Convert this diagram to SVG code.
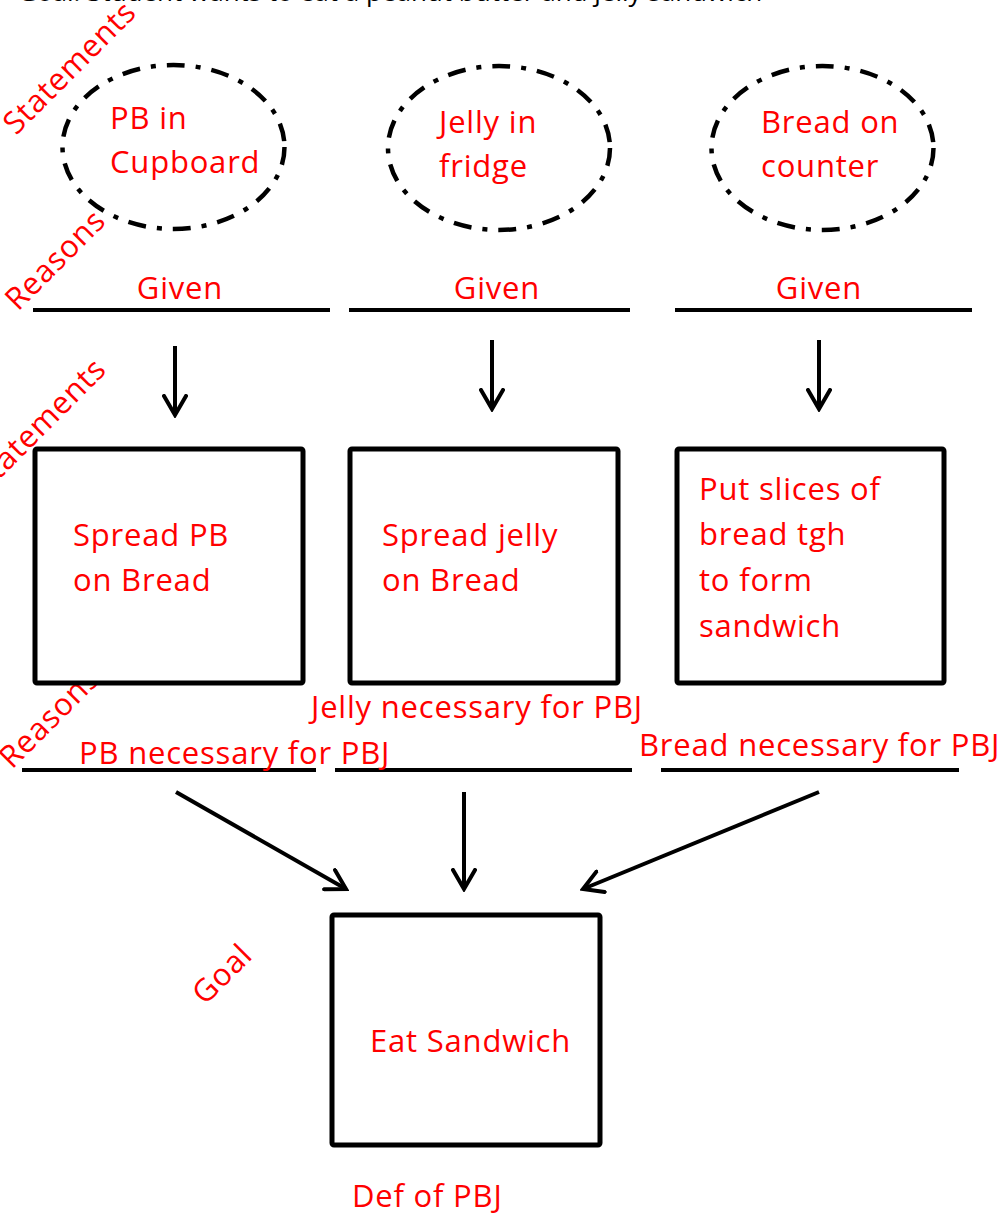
<svg xmlns="http://www.w3.org/2000/svg" width="1003" height="1216" viewBox="0 0 1003 1216">
<style>
  .t { font-family: "Open Sans", "Noto Sans", "Liberation Sans", sans-serif; font-size: 31px; letter-spacing: 0.8px; fill: #FF0000; }
  .hdr { font-family: "Open Sans", "Noto Sans", "Liberation Sans", sans-serif; font-size: 26px; fill: #000000; }
  .ell { fill: none; stroke: #000; stroke-width: 4.5; stroke-dasharray: 18 11 5 11; }
  .box { fill: #fff; stroke: #000; stroke-width: 5; }
  .rule { stroke: #000; stroke-width: 4; }
  .arr { stroke: #000; stroke-width: 4; fill: none; marker-end: url(#ah); }
</style>
<defs>
  <marker id="ah" viewBox="0 0 24 26" refX="21" refY="13" markerWidth="24" markerHeight="26" markerUnits="userSpaceOnUse" orient="auto">
    <path d="M2,2 L21,13 L2,24" fill="none" stroke="#000" stroke-width="4" stroke-linecap="round"/>
  </marker>
</defs>
<rect width="1003" height="1216" fill="#fff"/>

<text class="hdr" x="18" y="0.5">Goal: Student wants to eat a peanut butter and jelly sandwich</text>

<g id="labels">
  <text class="t" transform="translate(16,136) rotate(-45)">Statements</text>
  <text class="t" transform="translate(18,312) rotate(-45)">Reasons</text>
  <text class="t" transform="translate(-14,493) rotate(-45)">Statements</text>
  <text class="t" transform="translate(12,770) rotate(-45)">Reasons</text>
  <text class="t" transform="translate(205,1006) rotate(-45)">Goal</text>
</g>

<g id="node-pb-cupboard">
  <ellipse class="ell" cx="173.5" cy="147" rx="111" ry="82"/>
  <text class="t" x="110" y="129">PB in</text>
  <text class="t" x="110" y="173">Cupboard</text>
</g>
<g id="node-jelly-fridge">
  <ellipse class="ell" cx="499" cy="148" rx="111" ry="82"/>
  <text class="t" x="439" y="133">Jelly in</text>
  <text class="t" x="439" y="177">fridge</text>
</g>
<g id="node-bread-counter">
  <ellipse class="ell" cx="822.5" cy="148" rx="111" ry="82"/>
  <text class="t" x="761" y="133">Bread on</text>
  <text class="t" x="761" y="177">counter</text>
</g>

<g id="reasons-given">
  <line class="rule" x1="33" y1="310" x2="330" y2="310"/>
  <line class="rule" x1="349" y1="310" x2="630" y2="310"/>
  <line class="rule" x1="675" y1="310" x2="972" y2="310"/>
  <text class="t" x="180" y="299" text-anchor="middle">Given</text>
  <text class="t" x="497" y="299" text-anchor="middle">Given</text>
  <text class="t" x="819" y="299" text-anchor="middle">Given</text>
</g>

<g id="node-spread-pb">
  <rect class="box" x="35" y="449" width="268" height="234" rx="2"/>
  <text class="t" x="73" y="546">Spread PB</text>
  <text class="t" x="73" y="591">on Bread</text>
</g>
<g id="node-spread-jelly">
  <rect class="box" x="350" y="449" width="268" height="234" rx="2"/>
  <text class="t" x="382" y="546">Spread jelly</text>
  <text class="t" x="382" y="591">on Bread</text>
</g>
<g id="node-put-slices">
  <rect class="box" x="677" y="449" width="267" height="234" rx="2"/>
  <text class="t" x="699" y="500">Put slices of</text>
  <text class="t" x="699" y="545">bread tgh</text>
  <text class="t" x="699" y="591">to form</text>
  <text class="t" x="699" y="637">sandwich</text>
</g>

<g id="reasons-necessary">
  <line class="rule" x1="22" y1="770" x2="316" y2="770"/>
  <line class="rule" x1="335" y1="770" x2="632" y2="770"/>
  <line class="rule" x1="661" y1="770" x2="959" y2="770"/>
  <text class="t" x="79" y="764">PB necessary for PBJ</text>
  <text class="t" x="311" y="718">Jelly necessary for PBJ</text>
  <text class="t" x="639" y="756">Bread necessary for PBJ</text>
</g>

<g id="node-eat-sandwich">
  <rect class="box" x="332" y="915" width="268" height="230" rx="2"/>
  <text class="t" x="370" y="1052">Eat Sandwich</text>
  <text class="t" x="352" y="1207">Def of PBJ</text>
</g>

<g id="connectors">
  <line class="arr" x1="175" y1="346" x2="175" y2="415"/>
  <line class="arr" x1="492" y1="340" x2="492" y2="409"/>
  <line class="arr" x1="819" y1="340" x2="819" y2="409"/>
  <line class="arr" x1="176" y1="792" x2="346" y2="889"/>
  <line class="arr" x1="464" y1="792" x2="464" y2="889"/>
  <line class="arr" x1="819" y1="792" x2="583" y2="889"/>
</g>
</svg>
